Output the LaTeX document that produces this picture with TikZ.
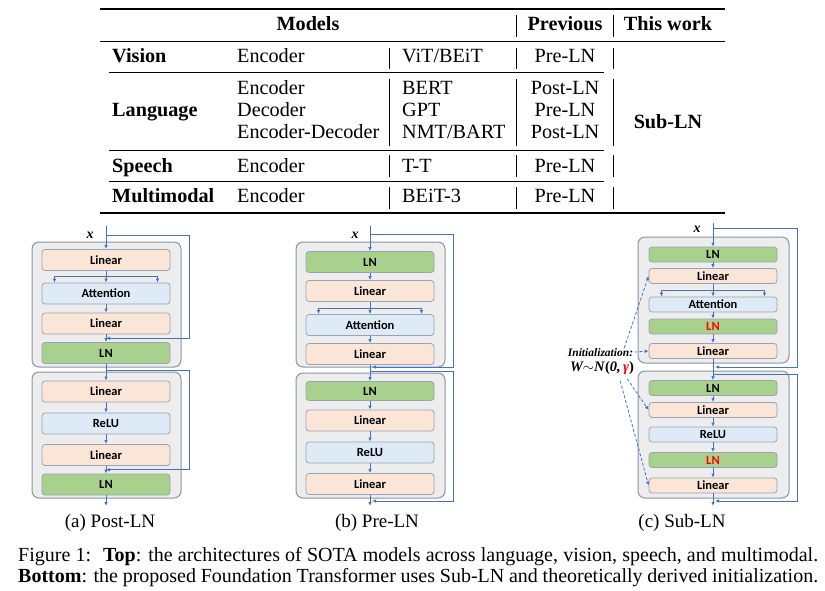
\documentclass[tikz,border=0pt]{standalone}
\usepackage{fontspec}
\setmainfont{Liberation Serif}
\newfontfamily\boxfam{Carlito}
\usetikzlibrary{arrows.meta,calc}

\definecolor{linfill}{HTML}{FBE5D6}
\definecolor{attfill}{HTML}{DEEBF7}
\definecolor{lnfill}{HTML}{A9D18E}
\definecolor{blkfill}{HTML}{EDEDED}
\definecolor{blkline}{HTML}{8A94A6}
\definecolor{unitline}{HTML}{9AA3B5}
\definecolor{flowblue}{HTML}{4472C4}

\newcommand\tabfont{\fontsize{20.2}{22}\selectfont}
\newcommand\boxfont{\boxfam\bfseries\fontsize{12.5}{14}\selectfont}

\tikzset{
  cell/.style={font=\tabfont, inner sep=0pt, anchor=base west},
  hd/.style={font=\tabfont\bfseries, inner sep=0pt, anchor=base},
  sep/.style={line width=0.7pt},
  blk/.style={draw=blkline, fill=blkfill, line width=1pt, rounded corners=7pt},
  unitbox/.style={draw=unitline, line width=0.8pt, rounded corners=3pt,
    minimum width=128pt, minimum height=21pt, inner sep=0pt, font=\boxfont},
  linbox/.style={unitbox, fill=linfill},
  attbox/.style={unitbox, fill=attfill},
  lnbox/.style={unitbox, fill=lnfill},
  flow/.style={draw=flowblue, line width=0.8pt, -{Latex[length=4pt,width=3.5pt]}},
  initarrow/.style={draw=flowblue, line width=0.8pt, dash pattern=on 3pt off 2pt,
    -{Latex[length=4pt,width=3.5pt]}},
  xlbl/.style={font=\fontsize{14}{16}\selectfont\bfseries\itshape, inner sep=0pt},
  sublbl/.style={font=\fontsize{19}{21}\selectfont, inner sep=0pt, anchor=base},
}

\begin{document}
\begin{tikzpicture}[x=1pt,y=-1pt]
\useasboundingbox (0,0) rectangle (825,591);

% table of models
\draw[line width=2pt] (100,9) -- (725,9);
\node[hd] (hmod) at (308,31) {Models};
\node[hd] (hprev) at (565,31) {Previous};
\node[hd] (hthis) at (668,31) {This work};
\draw[sep] (516,15) -- (516,37) (613,15) -- (613,37);
\draw[line width=1pt] (100,41.5) -- (725,41.5);

\node[cell,font=\tabfont\bfseries] (vision) at (112,63) {Vision};
\node[cell] (visarch) at (237,63) {Encoder};
\node[cell] (vismdl) at (402,63) {ViT/BEiT};
\node[cell,anchor=base] (visprev) at (565,63) {Pre-LN};
\draw[sep] (109,72.7) -- (604,72.7);

\node[cell,font=\tabfont\bfseries] (lang) at (112,117) {Language};
\node[cell] (langarch1) at (237,95) {Encoder};
\node[cell] (langarch2) at (237,117) {Decoder};
\node[cell] (langarch3) at (237,138.5) {Encoder-Decoder};
\node[cell] (langmdl1) at (402,95) {BERT};
\node[cell] (langmdl2) at (402,117) {GPT};
\node[cell] (langmdl3) at (402,138.5) {NMT/BART};
\node[cell,anchor=base] (langprev1) at (565,95) {Post-LN};
\node[cell,anchor=base] (langprev2) at (565,117) {Pre-LN};
\node[cell,anchor=base] (langprev3) at (565,138.5) {Post-LN};
\draw[sep] (109,150) -- (604,150);

\node[cell,font=\tabfont\bfseries] (speech) at (112,172) {Speech};
\node[cell] (sparch) at (237,172) {Encoder};
\node[cell] (spmdl) at (402,172) {T-T};
\node[cell,anchor=base] (spprev) at (565,172) {Pre-LN};
\draw[sep] (109,181.5) -- (604,181.5);

\node[cell,font=\tabfont\bfseries] (multi) at (112,203) {Multimodal};
\node[cell] (mmarch) at (237,203) {Encoder};
\node[cell] (mmmdl) at (402,203) {BEiT-3};
\node[cell,anchor=base] (mmprev) at (565,203) {Pre-LN};

\node[hd] (subln) at (668,129) {Sub-LN};
\foreach \a/\b in {48/69,79/146,155/177,187/209}
  \draw[sep] (389,\a) -- (389,\b) (516,\a) -- (516,\b) (613,\a) -- (613,\b);
\draw[line width=2pt] (100,213) -- (725,213);

% (a) Post-LN
\draw[blk] (32,242) rectangle (181,367);
\draw[blk] (32,372) rectangle (181,498);
\node[linbox] (a1) at (106,260) {Linear};
\node[attbox] (a2) at (106,293.5) {Attention};
\node[linbox] (a3) at (106,323.5) {Linear};
\node[lnbox] (a4) at (106,353) {LN};
\node[linbox] (a5) at (106,391.5) {Linear};
\node[attbox] (a6) at (106,423.5) {ReLU};
\node[linbox] (a7) at (106,455) {Linear};
\node[lnbox] (a8) at (106,484.5) {LN};
\node[xlbl] (axl) at (90,235) {x};
\coordinate (ain) at (106,226);
\coordinate (ar1) at (106,235.7);
\coordinate (ar2) at (106,370);
\coordinate (aj1) at ($(a3.south)!.5!(a4.north)$);
\coordinate (aj2) at ($(a7.south)!.5!(a8.north)$);
\coordinate (aout) at (106,506);
\draw[flow] (ain) -- (a1);
\foreach \i/\j in {1/2,2/3,3/4,4/5,5/6,6/7,7/8}
  \draw[flow] (a\i) -- (a\j);
\draw[flow] (a8) -- (aout);
\draw[flow] ($(a1.south)!.5!(a2.north)$) coordinate (abr) -| ([xshift=-51.5pt]a2.north);
\draw[flow] (abr) -| ([xshift=51.5pt]a2.north);
\draw[flow] (ar1) -- ++(83,0) |- (aj1);
\draw[flow] (ar2) -- ++(83,0) |- (aj2);
\node[sublbl] (capa) at (110,527) {(a) Post-LN};

% (b) Pre-LN
\draw[blk] (296,242) rectangle (445,367);
\draw[blk] (296,373) rectangle (445,498);
\node[lnbox] (b1) at (370,262) {LN};
\node[linbox] (b2) at (370,291) {Linear};
\node[attbox] (b3) at (370,325) {Attention};
\node[linbox] (b4) at (370,354) {Linear};
\node[lnbox,minimum height=19pt] (b5) at (370,391) {LN};
\node[linbox] (b6) at (370,420.5) {Linear};
\node[attbox] (b7) at (370,452.5) {ReLU};
\node[linbox] (b8) at (370,484) {Linear};
\node[xlbl] (bxl) at (355,235) {x};
\coordinate (bin) at (370,226);
\coordinate (br1) at (370,234);
\coordinate (br2) at (370,371);
\coordinate (bj1) at (370,367);
\coordinate (bj2) at (370,501);
\coordinate (bout) at (370,506);
\draw[flow] (bin) -- (b1);
\foreach \i/\j in {1/2,2/3,3/4,4/5,5/6,6/7,7/8}
  \draw[flow] (b\i) -- (b\j);
\draw[flow] (b8) -- (bout);
\draw[flow] ($(b2.south)!.5!(b3.north)$) coordinate (bbr) -| ([xshift=-51.5pt]b3.north);
\draw[flow] (bbr) -| ([xshift=51.5pt]b3.north);
\draw[flow] (br1) -- ++(83,0) |- ([xshift=2pt]bj1);
\draw[flow] (br2) -- ++(83,0) |- ([xshift=2pt]bj2);
\node[sublbl] (capb) at (377,527) {(b) Pre-LN};

% (c) Sub-LN
\draw[blk] (638,237) rectangle (789,363);
\draw[blk] (638,371) rectangle (789,498);
\tikzset{unitbox/.append style={minimum height=15pt}}
\node[lnbox] (c1) at (713,254.5) {LN};
\node[linbox] (c2) at (713,276) {Linear};
\node[attbox] (c3) at (713,304.5) {Attention};
\node[lnbox] (c4) at (713,326.5) {\textcolor{red}{LN}};
\node[linbox] (c5) at (713,351) {Linear};
\node[lnbox] (c6) at (713,388) {LN};
\node[linbox] (c7) at (713,410) {Linear};
\node[attbox] (c8) at (713,434.5) {ReLU};
\node[lnbox] (c9) at (713,460) {\textcolor{red}{LN}};
\node[linbox] (c10) at (713,485.5) {Linear};
\node[xlbl] (cxl) at (697,229) {x};
\coordinate (cin) at (713,223);
\coordinate (cr1) at (713,228);
\coordinate (cr2) at (713,374);
\coordinate (cj1) at (713,367);
\coordinate (cj2) at (713,501);
\coordinate (cout) at (713,506);
\draw[flow] (cin) -- (c1);
\foreach \i/\j in {1/2,2/3,3/4,4/5,5/6,6/7,7/8,8/9,9/10}
  \draw[flow] (c\i) -- (c\j);
\draw[flow] (c10) -- (cout);
\draw[flow] ($(c2.south)!.5!(c3.north)$) coordinate (cbr) -| ([xshift=-51.5pt]c3.north);
\draw[flow] (cbr) -| ([xshift=51.5pt]c3.north);
\draw[flow] (cr1) -- ++(84,0) |- ([xshift=2pt]cj1);
\draw[flow] (cr2) -- ++(84,0) |- ([xshift=2pt]cj2);
\node[font=\fontsize{11.5}{13}\selectfont\bfseries\itshape, inner sep=0pt, anchor=base] (initlbl) at (600.5,356) {Initialization:};
\node[font=\fontsize{14.5}{16}\selectfont\bfseries\itshape, inner sep=0pt, anchor=base] (initeq) at (602,371.5)
  {W$\sim$N\textup{(}0,\,\textcolor{red}{γ}\textup{)}};
\draw[initarrow] ([xshift=-9pt]initlbl.north east) -- (c2.west);
\draw[initarrow] ([xshift=1pt]initlbl.east) -- (c5.west);
\draw[initarrow] ([xshift=-7pt,yshift=-4pt]initeq.south east) -- (c7.west);
\draw[initarrow] ([xshift=-14pt,yshift=-6pt]initeq.south east) -- (c10.west);
\node[sublbl] (capc) at (682,527) {(c) Sub-LN};

% figure caption
\node[font=\fontsize{20}{22}\selectfont, inner sep=0pt, anchor=base west] (cap1) at (18,561)
  {\makebox[800pt][s]{Figure 1:\hspace{12pt}\textbf{Top}: the architectures of SOTA models across language, vision, speech, and multimodal.}};
\node[font=\fontsize{20}{22}\selectfont, inner sep=0pt, anchor=base west] (cap2) at (18,582)
  {\makebox[800pt][s]{\textbf{Bottom}: the proposed Foundation Transformer uses Sub-LN and theoretically derived initialization.}};
\end{tikzpicture}
\end{document}
